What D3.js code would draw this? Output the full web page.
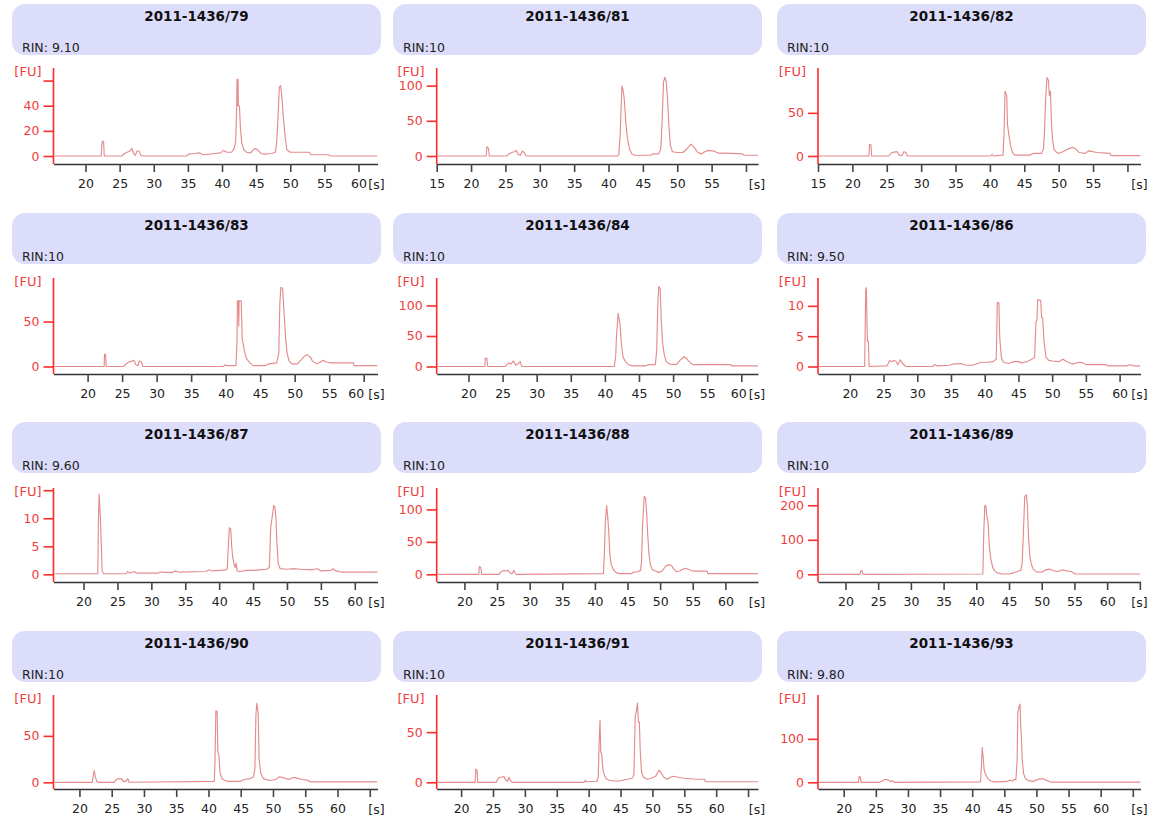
<!DOCTYPE html>
<html><head><meta charset="utf-8">
<script src="https://cdn.jsdelivr.net/npm/d3@7"></script>
<style>body{margin:0;background:#fff}text{font-family:"DejaVu Sans",sans-serif}</style>
</head><body><svg id="c" width="1154" height="825"></svg>
<script>
const sampleIds = ["2011-1436/79","2011-1436/81","2011-1436/82","2011-1436/83","2011-1436/84","2011-1436/86","2011-1436/87","2011-1436/88","2011-1436/89","2011-1436/90","2011-1436/91","2011-1436/93"];
const rinLabels = ["RIN: 9.10","RIN:10","RIN:10","RIN:10","RIN:10","RIN: 9.50","RIN: 9.60","RIN:10","RIN:10","RIN:10","RIN:10","RIN: 9.80"];
const xDomains = [[15.31,62.78],[15,61.75],[15,61.9],[15.06,62.0],[15.34,62.45],[15.28,63.1],[15.57,63.35],[15.75,65.0],[15.8,65.1],[15.98,66.2],[16.17,66.56],[16.0,66.2]];
const xTicks = [
 [20,25,30,35,40,45,50,55,60],[15,20,25,30,35,40,45,50,55,60],[15,20,25,30,35,40,45,50,55,60],
 [20,25,30,35,40,45,50,55,60],[20,25,30,35,40,45,50,55,60],[20,25,30,35,40,45,50,55,60],
 [20,25,30,35,40,45,50,55,60],[20,25,30,35,40,45,50,55,60],[20,25,30,35,40,45,50,55,60,65],
 [20,25,30,35,40,45,50,55,60,65],[20,25,30,35,40,45,50,55,60,65],[20,25,30,35,40,45,50,55,60,65]];
const xUnlabeled = [[],[60],[60],[],[],[],[],[],[65],[65],[65],[65]];
const yMaxes = [70,125,102,98.5,145,14.6,15.4,133,250,94,87,201];
const yTicks = [[0,20,40,60],[0,50,100],[0,50],[0,50],[0,50,100],[0,5,10],[0,5,10,15],[0,50,100],[0,100,200],[0,50],[0,50],[0,100]];
const yUnlabeled = [[60],[],[],[],[],[],[15],[],[],[],[],[]];

const trace79 = [[15.3,0],[22.3,0],[22.4,10],[22.5,12],[22.65,11],[22.75,0],[25.3,0],[25.7,2],[26.1,3],[26.5,4],[26.8,6],[27.05,2],[27.3,0.5],[27.55,4],[27.85,4],[28.1,0.5],[28.5,0],[34.8,0],[35.1,1.5],[36,2],[36.7,2.5],[37.2,1],[38.2,1.5],[39,2],[39.8,2.5],[40.2,4.5],[40.7,3],[41.4,3],[41.8,6],[42.0,12],[42.15,40],[42.2,61],[42.25,40],[42.3,61],[42.35,61],[42.4,40],[42.55,40],[42.7,22],[42.9,10],[43.2,5],[43.6,3],[44.2,2.5],[44.6,5],[44.9,6],[45.3,4.5],[45.7,2],[46.2,1.5],[47.3,2],[47.8,3],[48.0,10],[48.2,30],[48.4,55],[48.6,56],[48.8,45],[49.0,30],[49.25,15],[49.5,5],[50,3],[51,3],[52.8,3],[53,1],[55.7,1],[55.8,0],[62.8,0]];
const trace81 = [[15,0],[22.2,0],[22.3,13],[22.45,12],[22.55,10],[22.65,0],[25.2,0],[25.5,3],[25.9,5],[26.3,6],[26.6,8],[26.85,2],[27.2,1],[27.45,7],[27.75,5],[28,0],[41.3,0],[41.5,2],[41.7,30],[41.8,60],[41.95,99],[42.1,95],[42.3,80],[42.5,50],[42.75,25],[43.05,10],[43.4,3],[43.8,1],[46.2,1],[46.4,3],[47.3,3],[47.6,10],[47.8,50],[48.0,105],[48.2,112],[48.4,105],[48.6,80],[48.8,40],[49.0,15],[49.3,6],[50,5],[50.8,5],[51.4,10],[52,17],[52.5,12],[53,5],[53.5,3],[54,6],[54.5,8],[55.3,7],[56,4],[57,4],[59.5,3],[59.7,1],[61.8,1]];
const trace82 = [[15,0],[22.4,0],[22.5,13.5],[22.7,13],[22.8,0],[25.3,0],[25.7,4],[26.1,4.5],[26.5,5],[26.8,1],[27.2,0.5],[27.5,5],[27.8,4],[28,0],[40.1,0],[40.3,2],[40.5,0],[41.9,1],[42.05,25],[42.2,75],[42.35,72],[42.45,70],[42.55,37],[42.75,25],[43.0,12],[43.3,4],[43.6,1],[45.8,1],[46.3,3],[47.5,3],[47.8,8],[47.95,30],[48.1,65],[48.3,91],[48.5,88],[48.65,70],[48.8,75],[48.95,40],[49.1,20],[49.3,8],[49.6,5],[50,3],[50.6,5],[51.3,8],[52,10],[52.5,8],[53,4],[53.8,3],[54.4,6],[55,5],[55.5,4],[57.5,3],[57.6,0.5],[61.9,0.5]];
const trace83 = [[15,0],[22.4,0],[22.45,13.7],[22.6,13],[22.7,0],[25.2,0],[25.6,3],[26,5],[26.4,6],[26.7,7],[27.0,2],[27.3,1],[27.5,6],[27.8,5],[28,0],[39.7,0],[39.85,2],[40.1,1],[41.5,1],[41.65,30],[41.7,73],[41.85,73],[41.9,45],[41.95,73],[42.25,73],[42.4,31],[42.7,18],[43.0,9],[43.5,4],[44,1],[45.8,1],[46.2,3],[47.4,4],[47.7,15],[47.85,70],[48.0,88],[48.25,87],[48.35,75],[48.5,55],[48.7,30],[48.9,15],[49.2,6],[49.6,3],[50.4,3],[51.0,8],[51.5,12],[51.8,13],[52.2,11],[52.6,6],[53.2,3],[53.8,5],[54.1,7],[54.6,5],[55.2,4],[56,4],[58.5,4],[58.6,1],[62,1]];
const trace84 = [[15.3,0],[22.4,0],[22.45,13.7],[22.7,13],[22.8,0],[25.4,0],[25.6,3],[25.9,6],[26.2,4],[26.6,9],[26.9,2],[27.3,5],[27.6,8],[27.8,0],[41.4,0],[41.6,20],[41.7,50],[41.95,87],[42.05,80],[42.2,71],[42.4,40],[42.65,16],[43.0,8],[43.5,3],[44,1],[46,1],[46.3,3],[47.4,3],[47.6,27],[47.75,100],[47.9,131],[48.1,128],[48.25,79],[48.45,40],[48.7,20],[49.0,8],[49.5,4],[50.5,3],[51.0,10],[51.6,16],[52.0,13],[52.5,6],[53,3],[58.5,3],[58.6,1],[62.5,1]];
const trace86 = [[15.2,0],[22.2,0],[22.35,12.5],[22.45,13],[22.6,4.2],[22.75,4.2],[22.85,0],[25.5,0.1],[25.7,0.5],[25.9,1],[26.2,0.8],[26.5,1],[26.8,0.9],[27.1,0.3],[27.5,1.1],[27.8,0.5],[28.3,0],[32.3,0],[32.5,0.3],[33,0.1],[34.8,0.2],[35.2,0.4],[36.5,0.5],[37.2,0.2],[38.2,0.2],[39.5,0.7],[40.5,0.7],[41.2,0.8],[41.7,1.2],[41.8,6],[41.86,10.6],[42.1,10.5],[42.22,5],[42.35,3],[42.5,1.3],[42.8,0.7],[43.5,0.5],[44.3,0.8],[45,0.8],[45.5,0.6],[46.5,0.9],[47.4,1.5],[47.6,7.4],[47.75,7.6],[47.85,11],[48.3,10.9],[48.45,8],[48.6,8],[48.8,4],[49.1,1.5],[49.5,1],[50,0.9],[51,0.8],[51.6,1.2],[52.2,0.8],[53,0.4],[54,0.7],[54.6,0.6],[55,0.3],[58,0.3],[58.3,0.1],[61,0.1],[61.5,0.3],[62.2,0.1],[63.1,0.1]];
const trace87 = [[15.5,0.1],[22.1,0.1],[22.2,10],[22.3,14.3],[22.45,11],[22.55,7.7],[22.75,0.5],[23,0.1],[26.3,0.1],[26.5,0.5],[26.8,0.2],[27.5,0.5],[27.8,0.2],[31,0.2],[31.3,0.4],[33,0.3],[33.5,0.6],[34,0.4],[38,0.5],[38.5,0.8],[39,0.6],[40,0.7],[41,0.8],[41.2,1],[41.35,5],[41.5,8.3],[41.7,8.1],[41.85,5],[42.0,3],[42.2,1.8],[42.35,1.2],[42.5,2],[42.65,0.6],[43,0.5],[44,0.7],[45,0.7],[46,0.8],[47,0.9],[47.4,1.2],[47.6,8.3],[47.85,10.5],[48.05,12.3],[48.2,12],[48.35,10.5],[48.5,6],[48.7,2],[49,1],[50,0.9],[51,1],[52,0.9],[53.5,0.8],[54.5,1],[55,0.6],[56.5,0.7],[56.8,1],[57.2,0.6],[58,0.4],[63.4,0.4]];
const trace88 = [[15.7,0],[22.2,0],[22.3,12],[22.5,11],[22.65,0],[25.3,0],[25.6,4],[26,6],[26.4,5],[26.7,6],[27,2],[27.3,1],[27.6,6],[27.8,1],[28,0],[41.3,1],[41.45,30],[41.6,80],[41.8,106],[41.95,90],[42.1,70],[42.3,30],[42.5,15],[42.8,8],[43.2,3],[43.8,1],[45.6,1],[45.8,3],[46.5,4],[47,6],[47.15,20],[47.3,75],[47.55,120],[47.75,118],[47.9,100],[48.1,60],[48.3,30],[48.5,15],[48.8,7],[49.3,5],[49.8,3],[50.3,5],[50.8,12],[51.3,15],[51.7,14],[52.1,8],[52.5,4],[53,5],[53.5,8],[54,9],[54.5,7],[55,5],[55.5,5],[57.2,5],[57.3,1],[65,1]];
const trace89 = [[15.8,0],[22.2,0],[22.35,10],[22.5,12],[22.65,1],[22.8,0],[41.0,1],[41.15,127],[41.3,200],[41.45,198],[41.6,170],[41.8,150],[42.0,80],[42.2,46],[42.5,20],[42.8,10],[43.2,4],[44,1],[45,1],[45.8,5],[46.3,8],[46.8,12],[47.0,30],[47.2,120],[47.4,225],[47.65,230],[47.8,200],[48.0,100],[48.2,50],[48.4,30],[48.7,15],[49.2,7],[50,6],[50.5,12],[51.2,15],[51.8,10],[52.5,8],[53.2,13],[53.8,10],[54.5,8],[55,2],[55.2,1],[65.1,1]];
const trace90 = [[16,0],[22.0,0],[22.2,10],[22.3,12.6],[22.5,5],[22.7,1],[23,0],[25.4,0],[25.7,3],[26.1,4],[26.5,4],[26.8,1],[27.2,1],[27.5,4],[27.7,0],[40.9,1],[41.0,20],[41.15,77],[41.35,76],[41.45,33],[41.6,30],[41.8,10],[42.1,4],[42.5,2],[43,1],[45,1],[45.5,3],[46.5,4],[47,6],[47.2,15],[47.35,72],[47.5,85],[47.7,75],[47.85,25],[48.1,10],[48.5,4],[49.5,2],[50.4,3],[51,6],[51.5,5],[52.5,3],[53,5],[53.5,5],[54,4],[54.5,3],[55.5,2],[55.7,0.5],[66.2,0.5]];
const trace91 = [[16.1,0],[22.2,0],[22.3,13],[22.5,12],[22.6,0],[25.5,0],[25.8,4],[26.1,5],[26.4,5],[26.7,6],[27.0,2],[27.3,1],[27.5,5],[27.8,1],[28,0],[39.3,0],[39.5,2],[39.7,0.5],[41.3,1],[41.5,5],[41.65,40],[41.78,62],[41.9,30],[42.05,28],[42.2,15],[42.4,8],[42.7,4],[43.2,2],[44.5,1],[45.3,2],[46.8,4],[47.0,6],[47.1,8],[47.3,65],[47.5,72],[47.66,79],[47.8,60],[47.95,60],[48.1,30],[48.3,10],[48.6,5],[49.2,3],[49.8,4],[50.5,6],[51.0,12],[51.3,10],[51.8,5],[52.3,3],[52.8,5],[53.3,6],[54,5],[55,4],[57,3],[58.2,3],[58.3,0.5],[66.6,0.5]];
const trace93 = [[16,0],[22.3,0],[22.4,13],[22.6,12],[22.7,0],[25.5,0],[26,3],[26.5,7],[27,5],[27.3,1],[27.6,4],[27.9,0],[41.3,1],[41.45,40],[41.55,80],[41.7,60],[41.85,30],[42.0,22],[42.2,15],[42.5,8],[42.9,3],[43.5,1],[45.5,2],[45.8,5],[46.3,3],[46.5,6],[46.8,6],[47.0,50],[47.1,160],[47.3,175],[47.45,180],[47.55,130],[47.65,109],[47.8,50],[48.0,20],[48.3,8],[48.7,4],[49.5,2],[50,5],[50.5,8],[51,8],[51.5,5],[52,2],[52.2,0.5],[66.2,0.5]];
const traces = [trace79,trace81,trace82,trace83,trace84,trace86,trace87,trace88,trace89,trace90,trace91,trace93];

// layout
const colBoxX = [12,393,777], boxW = 369, boxH = 51;
const rowBoxY = [4,213,422,631];
const colAxisL = [53.5,436.7,818], colAxisR = [377.5,758,1140.5];
const rowTop = [68,278,488,695], rowZero = [156,366.5,574.3,782.3], rowAxis = [164,374,582,789];
const lastLabelShift = [0,0,0,-8,-3,0,0,0,0,0,0,0];
const traceColor = "#e48c8c", redAxis = "#ff2a2a", redText = "#f03c3c";

const svg = d3.select("#c");
const defs = svg.append("defs");

traces.forEach((tr,i)=>{
  const r = Math.floor(i/3), c = i%3;
  const g = svg.append("g");
  g.append("rect").attr("x",colBoxX[c]).attr("y",rowBoxY[r]).attr("width",boxW).attr("height",boxH)
    .attr("rx",13).attr("fill","#dcdcfb");
  g.append("text").attr("x",colBoxX[c]+boxW/2).attr("y",rowBoxY[r]+17).attr("text-anchor","middle")
    .attr("font-size",13.5).attr("font-weight","bold").attr("fill","#111").text(sampleIds[i]);
  g.append("text").attr("x",colBoxX[c]+10).attr("y",rowBoxY[r]+47.5)
    .attr("font-size",12.5).attr("fill","#222").text(rinLabels[i]);

  const x = d3.scaleLinear().domain(xDomains[i]).range([colAxisL[c], colAxisR[c]]);
  const y = d3.scaleLinear().domain([0, yMaxes[i]]).range([rowZero[r], rowTop[r]]);

  const cid = "clip"+i;
  defs.append("clipPath").attr("id",cid).append("rect")
    .attr("x",colAxisL[c]+1).attr("y",rowTop[r]-2).attr("width",colAxisR[c]-colAxisL[c]-1).attr("height",rowAxis[r]-rowTop[r]+1);

  // x axis
  const xa = d3.axisBottom(x).tickValues(xTicks[i]).tickSize(8).tickSizeOuter(0).tickPadding(7)
    .tickFormat(d => xUnlabeled[i].includes(d) ? "" : d);
  const gx = g.append("g").attr("transform",`translate(0,${rowAxis[r]})`).call(xa);
  gx.select(".domain").attr("stroke","#333").attr("stroke-width",1.6);
  gx.selectAll(".tick line").attr("stroke","#444").attr("stroke-width",1.6);
  gx.selectAll(".tick text").attr("font-size",12.5).attr("fill","#222").attr("font-family","DejaVu Sans")
    .attr("dx", d => d === 60 ? lastLabelShift[i] : 0);
  g.append("text").attr("x",colAxisR[c]-1).attr("y",rowAxis[r]+25).attr("text-anchor","middle")
    .attr("font-size",12.5).attr("fill","#222").text("[s]");

  // y axis
  g.append("line").attr("x1",colAxisL[c]).attr("x2",colAxisL[c]).attr("y1",rowTop[r]).attr("y2",rowAxis[r])
    .attr("stroke",redAxis).attr("stroke-width",1.6);
  const ya = d3.axisLeft(y).tickValues(yTicks[i]).tickSize(10).tickPadding(4)
    .tickFormat(d => yUnlabeled[i].includes(d) ? "" : d);
  const gy = g.append("g").attr("transform",`translate(${colAxisL[c]},0)`).call(ya);
  gy.select(".domain").remove();
  gy.selectAll(".tick line").attr("stroke",redAxis).attr("stroke-width",1.6);
  gy.selectAll(".tick text").attr("font-size",12.5).attr("fill",redText).attr("font-family","DejaVu Sans");
  g.append("text").attr("x",colAxisL[c]-12).attr("y",rowTop[r]+8).attr("text-anchor","end")
    .attr("font-size",13).attr("fill",redText).text("[FU]");

  // trace
  const line = d3.line().x(d=>x(d[0])).y(d=>y(d[1]));
  g.append("path").datum(tr).attr("d",line).attr("clip-path",`url(#${cid})`)
    .attr("fill","none").attr("stroke",traceColor).attr("stroke-width",1.15).attr("stroke-linejoin","round");
});
</script></body></html>
